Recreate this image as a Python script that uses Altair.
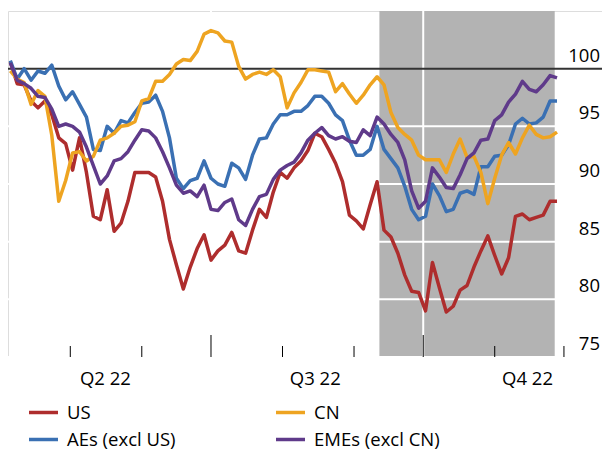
import altair as alt
import pandas as pd

# ---------------- data ----------------
dates = [
    "2022-04-05", "2022-04-08", "2022-04-11", "2022-04-14", "2022-04-17", "2022-04-20", "2022-04-23", "2022-04-26", "2022-04-29",
    "2022-05-02", "2022-05-05", "2022-05-08", "2022-05-11", "2022-05-14", "2022-05-17", "2022-05-20", "2022-05-23", "2022-05-26", "2022-05-29",
    "2022-06-01", "2022-06-04", "2022-06-07", "2022-06-10", "2022-06-13", "2022-06-16", "2022-06-19", "2022-06-22", "2022-06-25", "2022-06-28",
    "2022-07-01", "2022-07-04", "2022-07-07", "2022-07-10", "2022-07-13", "2022-07-16", "2022-07-19", "2022-07-22", "2022-07-25", "2022-07-28", "2022-07-31",
    "2022-08-03", "2022-08-06", "2022-08-09", "2022-08-12", "2022-08-15", "2022-08-18", "2022-08-21", "2022-08-24", "2022-08-27", "2022-08-30",
    "2022-09-02", "2022-09-05", "2022-09-08", "2022-09-11", "2022-09-14", "2022-09-17", "2022-09-20", "2022-09-23", "2022-09-26", "2022-09-29",
    "2022-10-02", "2022-10-05", "2022-10-08", "2022-10-11", "2022-10-14", "2022-10-17", "2022-10-20", "2022-10-23", "2022-10-26", "2022-10-29",
    "2022-11-01", "2022-11-04", "2022-11-07", "2022-11-10", "2022-11-13", "2022-11-16", "2022-11-19", "2022-11-22", "2022-11-25", "2022-11-28",
]

us = [
    100.6, 98.7, 98.6, 97.2, 96.6, 97.2, 96.0, 94.0, 93.5,
    91.2, 94.0, 91.0, 87.2, 86.9, 89.5, 85.9, 86.6, 88.5, 91.0,
    91.0, 91.0, 90.6, 88.5, 85.2, 83.0, 80.9, 82.8, 84.4, 85.6,
    83.4, 84.2, 84.7, 85.8, 84.2, 84.0, 86.0, 87.8, 87.1, 89.3, 91.0,
    90.5, 91.4, 92.0, 92.9, 94.4, 94.1, 93.0, 91.8, 90.2, 87.3,
    86.8, 86.1, 88.2, 90.2, 86.0, 85.4, 84.0, 82.1, 80.7, 80.6,
    79.0, 83.2, 81.0, 78.9, 79.4, 80.8, 81.2, 82.8, 84.2, 85.5,
    83.8, 82.2, 83.6, 87.2, 87.4, 86.9, 87.1, 87.3, 88.5, 88.5,
]

cn = [
    99.8, 99.1, 98.8, 96.9, 98.1, 97.6, 94.2, 88.5, 90.3,
    92.7, 92.8, 92.0, 92.4, 93.8, 94.0, 94.4, 95.0, 95.1, 95.4,
    97.2, 97.4, 98.9, 98.9, 99.5, 100.4, 100.8, 100.7, 101.5, 103.0,
    103.3, 103.1, 102.4, 102.3, 100.2, 99.1, 99.5, 99.7, 99.5, 99.9, 99.3,
    96.6, 97.9, 98.8, 99.9, 99.9, 99.8, 99.7, 98.0, 98.7, 97.8,
    97.0, 97.7, 98.6, 99.3, 98.6, 96.2, 94.9, 94.3, 93.8, 92.5,
    92.1, 92.1, 92.1, 91.0, 92.6, 93.9, 92.3, 92.4, 91.0, 88.3,
    90.5, 92.5, 93.6, 92.6, 94.0, 95.1, 94.3, 94.0, 94.1, 94.5,
]

aes = [
    100.7, 99.1, 100.0, 99.0, 99.8, 99.6, 100.3, 98.5, 97.3,
    98.0, 96.9, 95.8, 93.0, 92.9, 95.0, 94.4, 95.5, 95.3, 96.2,
    97.0, 97.1, 97.7, 96.3, 94.0, 90.5, 89.6, 90.3, 90.5, 92.0,
    90.5, 90.0, 89.8, 91.8, 91.4, 90.4, 92.5, 93.9, 94.0, 95.2, 96.0,
    96.0, 96.3, 96.3, 96.8, 97.6, 97.6, 97.0, 96.0, 95.5, 93.8,
    92.5, 92.5, 93.0, 95.0, 93.0, 92.2, 91.4, 89.8, 87.8, 86.9,
    87.2, 90.0, 89.0, 87.6, 87.8, 89.2, 89.4, 89.1, 91.5, 91.5,
    92.4, 92.5, 93.4, 95.2, 95.7, 95.2, 95.3, 95.8, 97.2, 97.2,
]

emes = [
    100.5, 99.0, 98.7, 98.3, 97.6, 97.5, 96.5, 95.0, 95.2,
    95.0, 94.5, 93.2, 91.6, 90.0, 90.7, 92.0, 92.2, 92.8, 93.8,
    94.7, 94.6, 94.0, 92.8, 91.4, 89.9, 89.2, 89.4, 88.9, 89.9,
    87.8, 87.7, 88.4, 88.7, 86.9, 86.4, 87.8, 88.9, 89.1, 90.4, 91.2,
    91.6, 91.9, 92.7, 93.8, 94.4, 94.9, 94.2, 93.9, 94.1, 93.7,
    93.6, 94.7, 94.2, 95.8, 95.2, 94.3, 93.6, 92.1, 89.4, 87.9,
    88.5, 91.4, 90.6, 89.7, 89.6, 90.8, 92.2, 92.7, 93.8, 93.9,
    95.5, 96.0, 97.1, 97.8, 98.9, 98.2, 98.0, 98.6, 99.4, 99.2,
]

# legend fills column by column: US, AEs | CN, EMEs
series_names = ["US", "AEs (excl US)", "CN", "EMEs (excl CN)"]
series_values = [us, aes, cn, emes]
series_colors = ["#AE2D2D", "#3A70B3", "#EEA421", "#5F3A8A"]

shade_start = ["2022-09-12"]
shade_end = ["2022-11-27"]
x_domain = [(2022, 4, 4, 0), (2022, 12, 17, 12)]
y_domain = [75, 105]
grid_levels = [75, 80, 85, 90, 95]
ref_level = [100]
y_label_values = [75, 80, 85, 90, 95, 100]
quarter_label_dates = ["2022-05-16", "2022-08-15", "2022-11-15"]
minor_tick_dates = ["2022-05-01", "2022-06-01", "2022-08-01", "2022-09-01", "2022-11-01", "2022-12-01"]
major_tick_dates = ["2022-07-01", "2022-10-01"]

# ---------------- tables ----------------
def to_dt(s):
    y, m, d = (int(p) for p in s.split("-"))
    return alt.DateTime(year=y, month=m, date=d)

rows = []
for name, vals in zip(series_names, series_values):
    for d, v in zip(dates, vals):
        rows.append({"date": pd.Timestamp(d), "value": v, "series": name})
lines_df = pd.DataFrame(rows)

shade_df = pd.DataFrame({"s": pd.to_datetime(shade_start), "e": pd.to_datetime(shade_end)})
grid_df = pd.DataFrame({"v": grid_levels})
ref_df = pd.DataFrame({"v": ref_level})
ylab_df = pd.DataFrame({"v": y_label_values})
vgrid_df = pd.DataFrame({"d": pd.to_datetime(major_tick_dates)})
minor_df = pd.DataFrame({"d": pd.to_datetime(minor_tick_dates)})
major_df = pd.DataFrame({"d": pd.to_datetime(major_tick_dates)})

W, H = 594, 346
FONT = "Open Sans"

x_scale = alt.Scale(domain=[alt.DateTime(year=a, month=b, date=c, hours=h) for a, b, c, h in x_domain])
y_scale = alt.Scale(domain=y_domain, nice=False, zero=False)

x_axis = alt.Axis(
    values=[to_dt(s) for s in quarter_label_dates],
    labelExpr="'Q' + quarter(datum.value) + ' ' + timeFormat(datum.value, '%y')",
    grid=False, ticks=False, tickSize=0, domain=False, title=None,
    labelFont=FONT, labelFontSize=18.5, labelColor="black",
    labelBaseline="alphabetic", labelPadding=27, labelFlush=False, labelOverlap=False,
)

shade = alt.Chart(shade_df).mark_rect(color="#B3B3B3").encode(
    x=alt.X("s:T", scale=x_scale, axis=x_axis),
    x2="e:T",
    y=alt.value(0), y2=alt.value(H),
)

hgrid = alt.Chart(grid_df).mark_rule(color="white", strokeWidth=2).encode(
    y=alt.Y("v:Q", scale=y_scale, axis=None)
)

vgrid = alt.Chart(vgrid_df).mark_rule(color="white", strokeWidth=2).encode(
    x=alt.X("d:T", scale=x_scale, axis=x_axis)
)

ref = alt.Chart(ref_df).mark_rule(color="#333333", strokeWidth=2).encode(
    y=alt.Y("v:Q", scale=y_scale, axis=None)
)

minor_ticks = alt.Chart(minor_df).mark_rule(color="black", strokeWidth=1).encode(
    x=alt.X("d:T", scale=x_scale, axis=x_axis),
    y=alt.value(H), y2=alt.value(H - 11),
)
major_ticks = alt.Chart(major_df).mark_rule(color="black", strokeWidth=1).encode(
    x=alt.X("d:T", scale=x_scale, axis=x_axis),
    y=alt.value(H), y2=alt.value(H - 22),
)

lines = alt.Chart(lines_df).mark_line(strokeWidth=3.5, strokeJoin="round").encode(
    x=alt.X("date:T", scale=x_scale, axis=x_axis),
    y=alt.Y("value:Q", scale=y_scale, axis=None),
    color=alt.Color(
        "series:N",
        scale=alt.Scale(domain=series_names, range=series_colors),
        legend=alt.Legend(
            orient="none", legendX=19, legendY=385, columns=2, title=None,
            symbolType="stroke", symbolSize=841, symbolStrokeWidth=3.5,
            labelFont=FONT, labelFontSize=18.5, labelColor="black", labelOffset=7,
            columnPadding=93, rowPadding=1, padding=0, labelLimit=300,
        ),
    ),
    detail="series:N",
)

ylabels = alt.Chart(ylab_df).mark_text(
    align="right", baseline="alphabetic", dy=-7, font=FONT, fontSize=18.5, color="black"
).encode(
    y=alt.Y("v:Q", scale=y_scale, axis=None),
    x=alt.value(W - 2),
    text=alt.Text("v:Q"),
)

chart = alt.layer(shade, hgrid, vgrid, ref, minor_ticks, major_ticks, lines, ylabels).properties(
    width=W, height=H,
    autosize=alt.AutoSizeParams(type="none"),
    padding={"left": 0, "top": 3, "right": 0, "bottom": 93},
).configure_view(stroke=None, fill="#D9D9D9").configure(background="white")

chart.save("out.html", embed_options={"renderer": "svg", "actions": False})
